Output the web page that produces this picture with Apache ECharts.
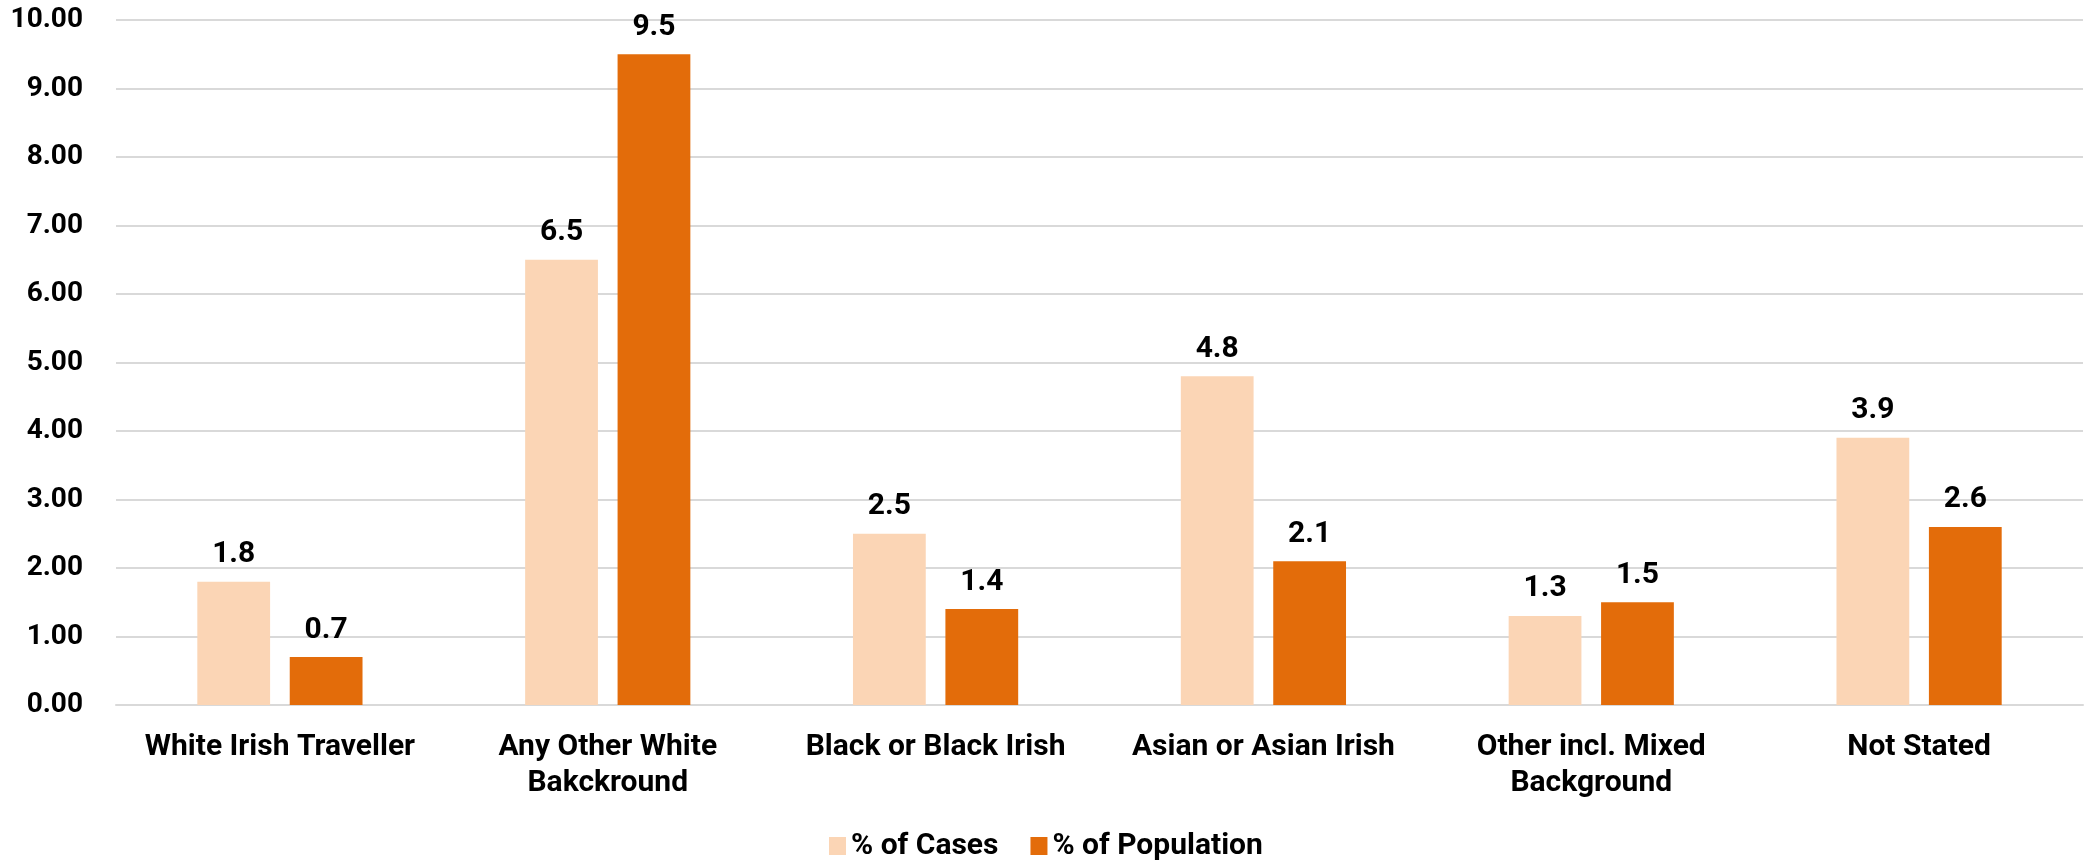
<!DOCTYPE html>
<html>
<head>
<meta charset="utf-8">
<style>
  html, body { margin: 0; padding: 0; background: #ffffff; }
  #chart { width: 2089px; height: 864px; }
</style>
<script src="https://cdn.jsdelivr.net/npm/echarts@6/dist/echarts.min.js"></script>
</head>
<body>
<div id="chart"></div>
<script>
// Ethnic background categories
const categories = [
  'White Irish Traveller',
  'Any Other White\nBakckround',
  'Black or Black Irish',
  'Asian or Asian Irish',
  'Other incl. Mixed\nBackground',
  'Not Stated'
];
// Percentage shares per category
const casesPct = [1.8, 6.5, 2.5, 4.8, 1.3, 3.9];
const populationPct = [0.7, 9.5, 1.4, 2.1, 1.5, 2.6];
const seriesNames = ['% of Cases', '% of Population'];

const FONT = 'Roboto, "Liberation Sans", sans-serif';

const chart = echarts.init(document.getElementById('chart'), null, { renderer: 'canvas' });

const labelStyle = {
  show: true,
  position: 'top',
  distance: 12,
  fontFamily: FONT,
  fontWeight: 'bold',
  fontSize: 30,
  color: '#000000',
  formatter: p => p.value.toFixed(1)
};

chart.setOption({
  animation: false,
  backgroundColor: '#ffffff',
  grid: { left: 116, right: 6, top: 20, bottom: 159, containLabel: false },
  legend: {
    top: 826,
    left: 824,
    itemWidth: 17,
    itemHeight: 18,
    itemGap: 32,
    icon: 'rect',
    textStyle: { fontFamily: FONT, fontWeight: 'bold', fontSize: 30, color: '#000000' },
    data: seriesNames
  },
  xAxis: {
    type: 'category',
    data: categories,
    axisTick: { show: false },
    axisLine: { show: true, lineStyle: { color: '#D9D9D9', width: 2 } },
    axisLabel: {
      fontFamily: FONT,
      fontWeight: 'bold',
      fontSize: 30,
      color: '#000000',
      margin: 24,
      lineHeight: 36,
      interval: 0
    }
  },
  yAxis: {
    type: 'value',
    min: 0,
    max: 10,
    interval: 1,
    axisLine: { show: false },
    axisTick: { show: false },
    splitLine: { lineStyle: { color: '#D9D9D9', width: 2 } },
    axisLabel: {
      fontFamily: FONT,
      fontWeight: 'bold',
      fontSize: 28,
      color: '#000000',
      margin: 33,
      formatter: v => v.toFixed(2)
    }
  },
  series: [
    {
      name: seriesNames[0],
      type: 'bar',
      data: casesPct,
      barWidth: '22.2%',
      barGap: '27%',
      itemStyle: { color: '#FBD5B5' },
      label: labelStyle
    },
    {
      name: seriesNames[1],
      type: 'bar',
      data: populationPct,
      barWidth: '22.2%',
      barGap: '27%',
      itemStyle: { color: '#E36C0A' },
      label: labelStyle
    }
  ]
});
</script>
</body>
</html>
